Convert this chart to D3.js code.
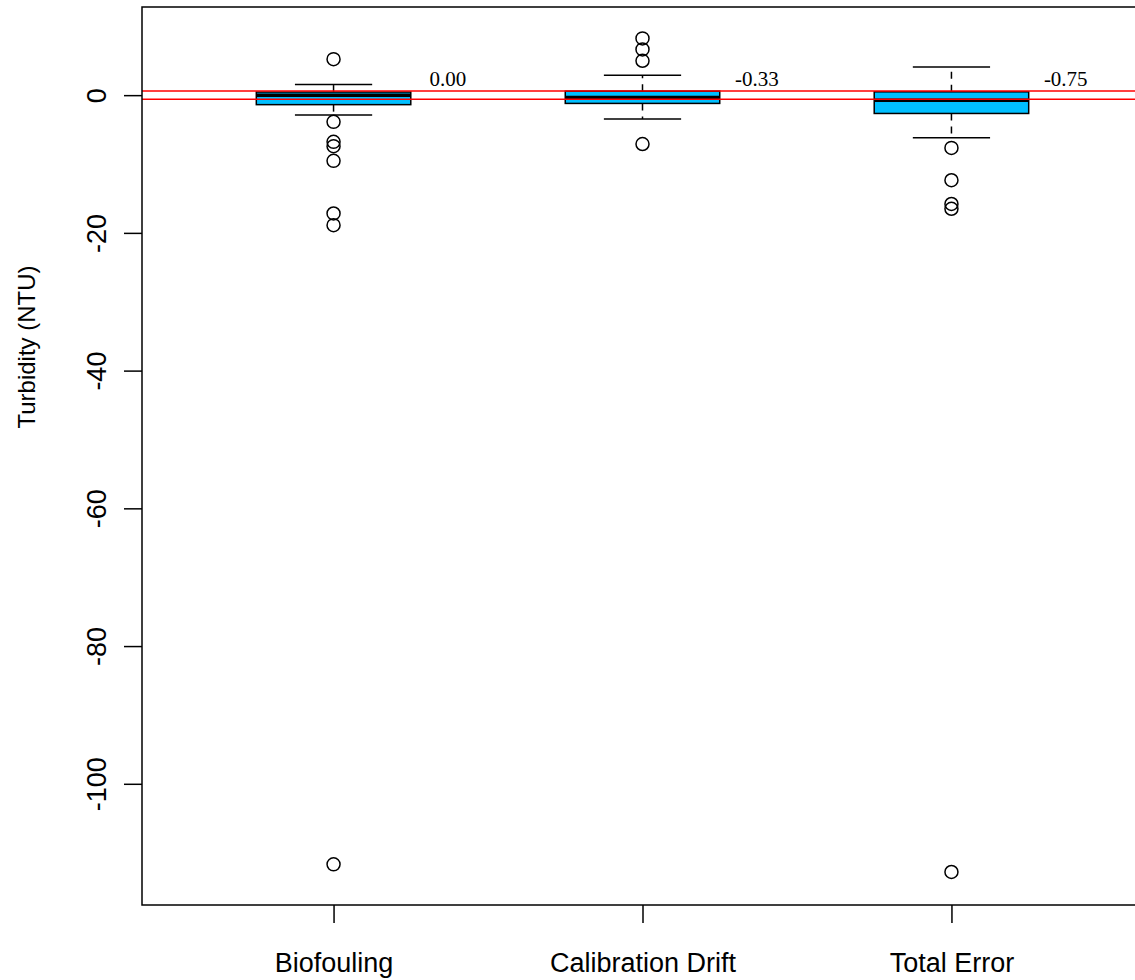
<!DOCTYPE html>
<html>
<head>
<meta charset="utf-8">
<script src="https://cdn.jsdelivr.net/npm/d3@7"></script>
<style>
  html, body { margin: 0; padding: 0; background: #fff; }
  svg { display: block; }
</style>
</head>
<body>
<svg id="chart" width="1135" height="980"></svg>
<script>
// Turbidity error components (NTU): box statistics per error source
const categories   = ["Biofouling", "Calibration Drift", "Total Error"];
const medianLabels = ["0.00", "-0.33", "-0.75"];
const medians      = [0.00, -0.33, -0.75];
const q1           = [-1.38, -1.20, -2.66];
const q3           = [0.45, 0.58, 0.48];
const whiskerLow   = [-2.9, -3.48, -6.2];
const whiskerHigh  = [1.55, 2.9, 4.1];
const outliers = [
  [5.23, -3.88, -6.78, -7.41, -9.54, -17.18, -18.88, -111.7],
  [8.24, 6.64, 4.99, -7.1],
  [-7.66, -12.35, -15.8, -16.5, -112.8]
];
const yTicks = [0, -20, -40, -60, -80, -100];
const referenceBand = [0.6, -0.6];

const svg = d3.select("#chart");

const plot = { left: 142, right: 1143, top: 7, bottom: 905 };

const x = d3.scaleLinear().domain([0.38, 3.62]).range([plot.left, plot.right]);
const y = d3.scaleLinear().domain([12.8, -117.6]).range([plot.top, plot.bottom]);
const step = x(2) - x(1);
const halfBox = 0.25 * step;
const halfCap = 0.5 * halfBox;

// Y axis (ticks + rotated labels)
const yAxis = d3.axisLeft(y).tickValues(yTicks).tickSize(18).tickFormat(d => String(d));
const gy = svg.append("g").attr("transform", `translate(${plot.left},0)`).call(yAxis);
gy.select(".domain").remove();
gy.selectAll(".tick line").attr("stroke", "#000").attr("stroke-width", 1.5);
gy.selectAll(".tick text")
  .attr("x", null).attr("dy", null)
  .attr("transform", "translate(-36,0) rotate(-90)")
  .attr("text-anchor", "middle")
  .attr("fill", "#000")
  .style("font-family", "'Liberation Sans', Arial, sans-serif")
  .style("font-size", "27px");

// X axis (category ticks + labels)
const xAxis = d3.axisBottom(x).tickValues([1, 2, 3]).tickSize(18)
  .tickFormat((d, i) => categories[i]);
const gx = svg.append("g").attr("transform", `translate(0,${plot.bottom})`).call(xAxis);
gx.select(".domain").remove();
gx.selectAll(".tick line").attr("stroke", "#000").attr("stroke-width", 1.5);
gx.selectAll(".tick text")
  .attr("y", 67).attr("dy", null)
  .attr("fill", "#000")
  .style("font-family", "'Liberation Sans', Arial, sans-serif")
  .style("font-size", "27px");

// Y axis title
svg.append("text")
  .attr("transform", `translate(35,347) rotate(-90)`)
  .attr("text-anchor", "middle")
  .style("font-family", "'Liberation Sans', Arial, sans-serif")
  .style("font-size", "24px")
  .text("Turbidity (NTU)");

// Boxplots
const groups = svg.append("g").selectAll("g").data(categories).join("g");

groups.each(function(cat, i) {
  const g = d3.select(this);
  const cx = x(i + 1);
  // dashed whiskers
  g.append("line").attr("x1", cx).attr("x2", cx)
    .attr("y1", y(q3[i])).attr("y2", y(whiskerHigh[i]))
    .attr("stroke", "#000").attr("stroke-width", 1.5).attr("stroke-dasharray", "7,6");
  g.append("line").attr("x1", cx).attr("x2", cx)
    .attr("y1", y(q1[i])).attr("y2", y(whiskerLow[i]))
    .attr("stroke", "#000").attr("stroke-width", 1.5).attr("stroke-dasharray", "7,6");
  // staples
  [whiskerHigh[i], whiskerLow[i]].forEach(v => {
    g.append("line").attr("x1", cx - halfCap).attr("x2", cx + halfCap)
      .attr("y1", y(v)).attr("y2", y(v))
      .attr("stroke", "#000").attr("stroke-width", 1.5);
  });
  // box
  g.append("rect")
    .attr("x", cx - halfBox).attr("width", 2 * halfBox)
    .attr("y", y(q3[i])).attr("height", y(q1[i]) - y(q3[i]))
    .attr("fill", "#00BFFF").attr("stroke", "#000").attr("stroke-width", 1.5);
  // median
  g.append("line").attr("x1", cx - halfBox).attr("x2", cx + halfBox)
    .attr("y1", y(medians[i])).attr("y2", y(medians[i]))
    .attr("stroke", "#000").attr("stroke-width", 3.5);
  // outliers
  g.selectAll("circle").data(outliers[i]).join("circle")
    .attr("cx", cx).attr("cy", d => y(d)).attr("r", 6.5)
    .attr("fill", "none").attr("stroke", "#000").attr("stroke-width", 1.5);
});

// Reference band lines
svg.append("g").selectAll("line").data(referenceBand).join("line")
  .attr("x1", plot.left).attr("x2", plot.right)
  .attr("y1", d => y(d)).attr("y2", d => y(d))
  .attr("stroke", "#ff0000").attr("stroke-width", 1.5);

// Median value labels
svg.append("g").selectAll("text").data(medianLabels).join("text")
  .attr("x", (d, i) => x(i + 1) + 0.37 * step)
  .attr("y", 86)
  .attr("text-anchor", "middle")
  .style("font-family", "'Liberation Serif', 'Times New Roman', serif")
  .style("font-size", "21px")
  .text(d => d);

// Plot frame
svg.append("rect")
  .attr("x", plot.left).attr("y", plot.top)
  .attr("width", plot.right - plot.left).attr("height", plot.bottom - plot.top)
  .attr("fill", "none").attr("stroke", "#000").attr("stroke-width", 1.5);
</script>
</body>
</html>
